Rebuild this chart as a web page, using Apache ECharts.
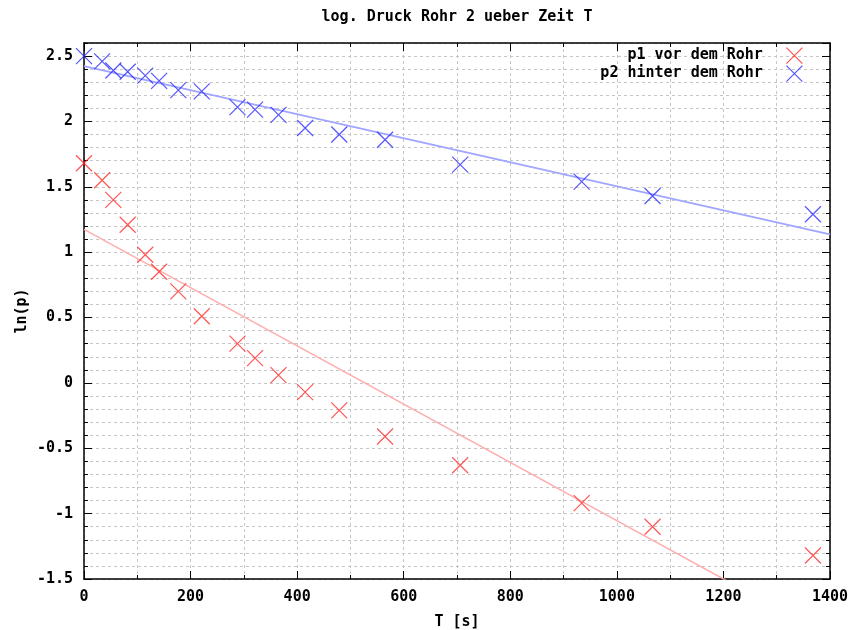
<!DOCTYPE html>
<html>
<head>
<meta charset="utf-8">
<script src="https://cdn.jsdelivr.net/npm/echarts@6/dist/echarts.min.js"></script>
<style>
  html, body { margin: 0; padding: 0; background: #fff; }
  #chart { width: 855px; height: 630px; }
</style>
</head>
<body>
<div id="chart"></div>
<script>
// Measurement times [s] and log pressures for both tappings
const timeS = [0, 34, 55, 82, 115, 141, 177, 221, 288, 321, 365, 415, 479, 565, 706, 934, 1067, 1368];
const lnP1  = [1.68, 1.55, 1.40, 1.21, 0.98, 0.85, 0.70, 0.51, 0.30, 0.19, 0.06, -0.07, -0.21, -0.41, -0.63, -0.92, -1.10, -1.32];
const lnP2  = [2.50, 2.46, 2.39, 2.38, 2.35, 2.31, 2.24, 2.23, 2.11, 2.09, 2.05, 1.95, 1.90, 1.86, 1.67, 1.54, 1.43, 1.29];

// Regression lines (end points)
const fitT  = [0, 1400];
const fitP1 = [1.174, -1.945];
const fitP2 = [2.423, 1.136];

// Axis ranges and tick spacing
const xRange = [0, 1400];
const xMajor = 200;
const yRange = [-1.5, 2.6];
const yMajor = 0.5;
const yMinor = 0.1;

const seriesNames = ['p1 vor dem Rohr', 'p2 hinter dem Rohr'];
const titleText = 'log. Druck Rohr 2 ueber Zeit T';
const xName = 'T [s]';
const yName = 'ln(p)';

const FONT = 'DejaVu Sans Mono';
const FONT_SIZE = 15;
const crossPath = 'path://M0,0L10,10M10,0L0,10';
const gridDash = { type: [3, 3], color: '#c6c6c6', width: 1 };
const frame = { show: true, onZero: false, lineStyle: { color: '#000', width: 1.5 } };
const labelFont = { fontFamily: FONT, fontWeight: 'bold', fontSize: FONT_SIZE, color: '#000' };

const pairs = (xs, ys) => xs.map((x, i) => [x, ys[i]]);
const plain = v => String(Math.round(v * 1000) / 1000);

const chart = echarts.init(document.getElementById('chart'), null, { renderer: 'canvas' });

function legendFor(name, top) {
  return {
    data: [name],
    right: 52,
    top: top,
    orient: 'vertical',
    align: 'right',
    padding: 0,
    itemWidth: 17,
    itemHeight: 16,
    icon: crossPath,
    selectedMode: false,
    itemStyle: { borderWidth: 1.2 },
    textStyle: Object.assign({ padding: [0, 18, 0, 0] }, labelFont)
  };
}

chart.setOption({
  animation: false,
  backgroundColor: '#fff',
  grid: { left: 84, right: 25, top: 43, bottom: 51, containLabel: false },
  legend: [legendFor(seriesNames[0], 47), legendFor(seriesNames[1], 65)],
  xAxis: [
    {
      type: 'value', position: 'bottom', min: xRange[0], max: xRange[1], interval: xMajor,
      axisLine: frame,
      axisTick: { show: true, inside: true, length: 8, lineStyle: { color: '#000' } },
      minorTick: { show: true, splitNumber: 2, length: 4, lineStyle: { color: '#000' } },
      splitLine: { show: true, lineStyle: gridDash },
      minorSplitLine: { show: true, lineStyle: gridDash },
      axisLabel: Object.assign({ margin: 11, formatter: plain }, labelFont)
    },
    {
      type: 'value', position: 'top', min: xRange[0], max: xRange[1], interval: xMajor,
      axisLine: frame,
      axisTick: { show: true, inside: true, length: 8, lineStyle: { color: '#000' } },
      minorTick: { show: true, splitNumber: 2, length: 4, lineStyle: { color: '#000' } },
      splitLine: { show: false },
      axisLabel: { show: false }
    }
  ],
  yAxis: [
    {
      type: 'value', position: 'left', min: yRange[0], max: yRange[1], interval: yMajor,
      axisLine: frame,
      axisTick: { show: true, inside: true, length: 8, lineStyle: { color: '#000' } },
      splitLine: { show: false },
      axisLabel: Object.assign({ margin: 11, showMaxLabel: false, formatter: plain }, labelFont)
    },
    {
      type: 'value', position: 'left', min: yRange[0], max: yRange[1], interval: yMinor,
      axisLine: { show: false, onZero: false },
      axisTick: { show: true, inside: true, length: 4, lineStyle: { color: '#000' } },
      splitLine: { show: true, lineStyle: gridDash },
      axisLabel: { show: false }
    },
    {
      type: 'value', position: 'right', min: yRange[0], max: yRange[1], interval: yMajor,
      axisLine: frame,
      axisTick: { show: true, inside: true, length: 8, lineStyle: { color: '#000' } },
      splitLine: { show: false },
      axisLabel: { show: false }
    },
    {
      type: 'value', position: 'right', min: yRange[0], max: yRange[1], interval: yMinor,
      axisLine: { show: false, onZero: false },
      axisTick: { show: true, inside: true, length: 4, lineStyle: { color: '#000' } },
      splitLine: { show: false },
      axisLabel: { show: false }
    }
  ],
  series: [
    {
      name: 'fit p1', type: 'line', data: pairs(fitT, fitP1),
      showSymbol: false, silent: true, clip: true, z: 1,
      lineStyle: { color: '#ffacac', width: 1.5 }
    },
    {
      name: 'fit p2', type: 'line', data: pairs(fitT, fitP2),
      showSymbol: false, silent: true, clip: true, z: 1,
      lineStyle: { color: '#a0a6ff', width: 1.8 }
    },
    {
      name: seriesNames[0], type: 'scatter', data: pairs(timeS, lnP1),
      symbol: crossPath, symbolSize: 16, clip: false, z: 3,
      itemStyle: { color: 'rgba(0,0,0,0)', borderColor: '#ff2a2a', borderWidth: 1.2 }
    },
    {
      name: seriesNames[1], type: 'scatter', data: pairs(timeS, lnP2),
      symbol: crossPath, symbolSize: 16, clip: false, z: 3,
      itemStyle: { color: 'rgba(0,0,0,0)', borderColor: '#2a2aff', borderWidth: 1.2 }
    }
  ],
  graphic: [
    {
      type: 'text', x: 457, y: 17,
      style: { text: titleText, fill: '#000', font: 'bold ' + FONT_SIZE + 'px ' + FONT, align: 'center', verticalAlign: 'middle' }
    },
    {
      type: 'text', x: 457, y: 622,
      style: { text: xName, fill: '#000', font: 'bold ' + FONT_SIZE + 'px ' + FONT, align: 'center', verticalAlign: 'middle' }
    },
    {
      type: 'text', x: 22, y: 311, rotation: Math.PI / 2,
      style: { text: yName, fill: '#000', font: 'bold ' + FONT_SIZE + 'px ' + FONT, align: 'center', verticalAlign: 'middle' }
    }
  ]
});
</script>
</body>
</html>
